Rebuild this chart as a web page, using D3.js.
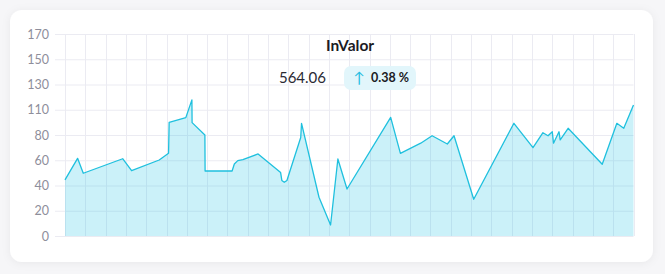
<!DOCTYPE html>
<html lang="en">
<head>
    <meta charset="UTF-8">
    <title>InValor</title>
    <style>
        body { margin: 0; background: #f6f6f8; font-family: Lato, "Noto Sans", sans-serif; }
        #chart-wrapper { position: relative; width: 665px; height: 274px; }
    </style>
</head>
<body>
    <div id="chart-wrapper"></div>

    <script src="https://d3js.org/d3.v7.min.js"></script>
    <script>
        // values (x in days, y in value units)
        const days = [0, 0.62, 0.90, 2.84, 3.28, 4.64, 5.10, 5.13, 5.95, 6.25, 6.26, 6.89, 6.90, 8.23, 8.34, 8.51, 8.76,
            9.51, 10.62, 10.68, 10.80, 10.93, 11.61, 11.65, 12.51, 13.08, 13.44, 13.89, 16.04, 16.52, 17.52, 18.08,
            18.83, 19.16, 20.13, 22.11, 23.05, 23.54, 23.79, 24.00, 24.06, 24.33, 24.39, 24.78, 26.46, 27.18, 27.52, 28]
        const values = [44.4, 61.5, 49.7, 61.2, 51.7, 60.2, 65.5, 95, 100.6, 117.8, 94.7, 80, 51.5, 51.5, 57, 59.7, 60.5,
            65, 50.2, 44, 42.5, 44, 78, 93.9, 30.7, 8.7, 61, 37.2, 101, 65.5, 73.5, 79.4,
            72.9, 79.4, 29.1, 93.9, 70, 82.7, 79.4, 83.9, 73.5, 83.9, 76.1, 88, 56.8, 93.9, 88, 113.8]
        const yTicks = [0, 20, 40, 60, 80, 110, 130, 150, 170]
        const title = 'InValor'
        const lastValue = '564.06'
        const change = '0.38 %'

        const width = 665
        const height = 274
        const margin = { top: 34, right: 31, bottom: 38, left: 65 }

        const svg = d3.select('#chart-wrapper')
            .append('svg')
            .attr('width', width)
            .attr('height', height)

        const defs = svg.append('defs')
        const shadow = defs.append('filter').attr('id', 'shadow')
            .attr('x', '-5%').attr('y', '-10%').attr('width', '110%').attr('height', '120%')
        shadow.append('feDropShadow')
            .attr('dx', 0).attr('dy', 1).attr('stdDeviation', 4)
            .attr('flood-color', '#000').attr('flood-opacity', 0.06)

        // card
        svg.append('rect')
            .attr('x', 10).attr('y', 10)
            .attr('width', 643).attr('height', 252)
            .attr('rx', 12)
            .attr('fill', '#fff')
            .attr('filter', 'url(#shadow)')

        const x = d3.scaleLinear()
            .domain([0, 28])
            .range([margin.left, width - margin.right - 0.5])

        // tick labels are evenly spaced though not evenly valued
        const y = d3.scaleLinear()
            .domain(yTicks)
            .range(yTicks.map((_, i) => height - margin.bottom - i * (height - margin.top - margin.bottom) / (yTicks.length - 1)))

        const g = svg.append('g')

        // vertical grid
        g.append('g')
            .selectAll('line')
            .data(d3.range(0, 29))
            .join('line')
            .attr('x1', d => Math.round(x(d)) + 0.5)
            .attr('x2', d => Math.round(x(d)) + 0.5)
            .attr('y1', y(170))
            .attr('y2', y(0))
            .attr('stroke', '#ebebf2')
            .attr('stroke-width', 1)

        // y axis with grid lines
        const yAxis = d3.axisLeft(y)
            .tickValues(yTicks)
            .tickSize(-(x(28) - x(0)) - 10)
            .tickPadding(6)
            .tickFormat(d3.format('d'))
        g.append('g')
            .attr('transform', `translate(${x(0) - 10},0)`)
            .call(yAxis)
            .call(s => s.select('.domain').remove())
            .call(s => s.selectAll('.tick line').attr('stroke', '#ebebf2'))
            .call(s => s.selectAll('.tick text')
                .attr('fill', '#8e8e9b')
                .attr('font-size', 12.5)
                .attr('font-family', 'Lato, sans-serif'))

        const pts = days.map((d, i) => [d, values[i]])

        const area = d3.area()
            .x(d => x(d[0]))
            .y0(y(0))
            .y1(d => y(d[1]))
        g.append('path')
            .datum(pts)
            .attr('d', area)
            .attr('fill', '#1fc3e6')
            .attr('fill-opacity', 0.23)

        const line = d3.line()
            .x(d => x(d[0]))
            .y(d => y(d[1]))
        g.append('path')
            .datum(pts)
            .attr('d', line)
            .attr('fill', 'none')
            .attr('stroke', '#1fc0de')
            .attr('stroke-width', 1.3)
            .attr('stroke-linejoin', 'round')

        // header
        svg.append('text')
            .attr('x', 350).attr('y', 51)
            .attr('text-anchor', 'middle')
            .attr('font-size', 15.5)
            .attr('font-weight', 'bold')
            .attr('fill', '#1b1b24')
            .text(title)

        svg.append('text')
            .attr('x', 326).attr('y', 83)
            .attr('text-anchor', 'end')
            .attr('font-size', 15)
            .attr('fill', '#2a2a33')
            .text(lastValue)

        svg.append('rect')
            .attr('x', 344).attr('y', 66)
            .attr('width', 72).attr('height', 24)
            .attr('rx', 7)
            .attr('fill', '#e2f6fb')
        svg.append('text')
            .attr('x', 359).attr('y', 83)
            .attr('text-anchor', 'middle')
            .attr('font-size', 15)
            .attr('fill', '#1fbde0')
            .text('↑')
        svg.append('text')
            .attr('x', 371).attr('y', 82)
            .attr('font-size', 12.5)
            .attr('font-weight', 'bold')
            .attr('fill', '#1b1b24')
            .text(change)
    </script>
</body>
</html>
